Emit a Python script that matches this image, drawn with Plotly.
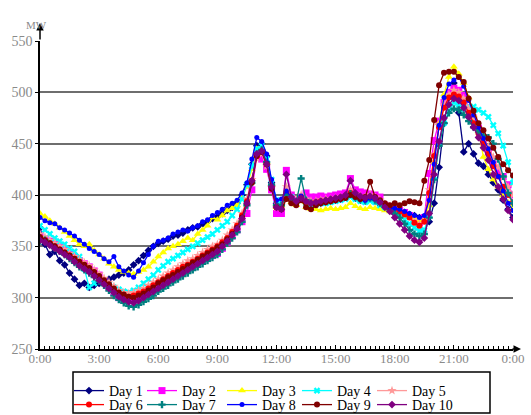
import plotly.graph_objects as go

# 15-minute load samples (MW) from 0:00 to 24:00, 97 points per day
hours = [i * 0.25 for i in range(97)]

day1 = [368, 352, 342, 345, 336, 332, 324, 318, 312, 314, 310, 312, 314, 316, 318, 320,
        322, 324, 327, 332, 336, 341, 346, 350, 353, 355, 357, 360, 361, 363, 366, 368,
        369, 372, 374, 377, 379, 382, 385, 388, 392, 400, 410, 430, 448, 450, 438, 412,
        392, 394, 400, 396, 393, 398, 392, 390, 391, 392, 393, 394, 395, 396, 398, 400,
        397, 395, 394, 396, 394, 391, 389, 388, 387, 385, 383, 381, 380, 378, 376, 374,
        392, 427, 470, 495, 509, 480, 442, 450, 440, 431, 428, 420, 412, 405, 395, 386,
        378]
day2 = [360, 357, 355, 352, 350, 347, 344, 340, 336, 333, 330, 326, 322, 316, 310, 305,
        300, 298, 297, 298, 300, 302, 305, 308, 312, 315, 318, 320, 322, 325, 328, 330,
        333, 336, 338, 341, 343, 348, 354, 360, 366, 374, 382, 405, 437, 435, 425, 405,
        382, 382, 424, 400, 395, 398, 402, 398, 398, 399, 398, 399, 400, 401, 402, 416,
        405, 403, 402, 401, 400, 398, 390, 388, 386, 385, 383, 380, 375, 373, 378, 421,
        453, 472, 490, 500, 504, 502, 497, 485, 475, 465, 452, 442, 430, 424, 418, 410,
        400]
day3 = [382, 379, 375, 372, 368, 364, 360, 356, 352, 350, 352, 346, 342, 338, 333, 330,
        327, 325, 324, 323, 325, 327, 330, 335, 340, 344, 348, 350, 352, 355, 358, 356,
        362, 366, 370, 378, 376, 380, 385, 387, 390, 398, 408, 425, 445, 446, 432, 410,
        388, 390, 398, 393, 390, 394, 388, 386, 386, 385, 386, 387, 386, 387, 388, 392,
        389, 387, 386, 388, 387, 386, 385, 384, 383, 382, 380, 378, 377, 375, 376, 390,
        432, 470, 498, 515, 525, 518, 509, 495, 478, 462, 437, 425, 415, 408, 400, 393,
        388]
day4 = [370, 366, 362, 358, 355, 352, 348, 345, 340, 328, 310, 314, 318, 316, 313, 310,
        308, 306, 305, 307, 310, 314, 318, 322, 327, 331, 335, 338, 341, 344, 347, 350,
        353, 356, 359, 362, 366, 370, 374, 380, 386, 396, 410, 428, 445, 448, 435, 415,
        395, 392, 402, 398, 394, 397, 392, 391, 391, 392, 392, 393, 394, 395, 396, 398,
        396, 394, 393, 394, 393, 390, 388, 386, 383, 380, 376, 372, 368, 365, 366, 380,
        418, 450, 470, 482, 490, 488, 484, 486, 486, 483, 480, 476, 468, 460, 448, 432,
        412]
day5 = [362, 359, 356, 353, 350, 347, 343, 340, 337, 334, 331, 327, 323, 319, 315, 311,
        307, 305, 304, 305, 307, 309, 312, 315, 318, 321, 324, 327, 330, 333, 336, 338,
        341, 344, 347, 350, 352, 356, 361, 366, 372, 382, 396, 415, 436, 440, 428, 408,
        388, 390, 408, 398, 395, 400, 396, 394, 394, 395, 396, 396, 397, 398, 399, 405,
        401, 399, 398, 400, 398, 395, 391, 389, 387, 385, 382, 379, 375, 372, 375, 405,
        440, 468, 488, 498, 502, 500, 494, 484, 474, 465, 456, 447, 437, 427, 417, 408,
        400]
day6 = [358, 356, 353, 350, 347, 344, 341, 338, 334, 331, 328, 324, 320, 316, 312, 308,
        304, 302, 301, 302, 304, 306, 309, 312, 315, 318, 321, 324, 327, 330, 332, 335,
        338, 341, 344, 347, 350, 354, 358, 364, 370, 380, 394, 414, 438, 442, 430, 408,
        388, 388, 402, 396, 392, 398, 393, 392, 393, 394, 394, 395, 396, 397, 398, 402,
        399, 397, 396, 398, 396, 393, 390, 388, 386, 384, 381, 378, 373, 370, 374, 402,
        438, 466, 485, 495, 498, 496, 490, 480, 470, 460, 450, 440, 428, 418, 408, 400,
        393]
day7 = [355, 356, 352, 348, 345, 342, 338, 334, 330, 327, 324, 320, 316, 312, 307, 302,
        298, 295, 292, 291, 293, 296, 299, 302, 306, 309, 312, 315, 318, 321, 324, 327,
        330, 333, 336, 339, 342, 347, 353, 358, 364, 374, 390, 412, 440, 444, 432, 410,
        390, 390, 400, 396, 393, 416, 395, 392, 392, 393, 394, 395, 396, 397, 398, 401,
        398, 396, 395, 397, 395, 392, 389, 386, 382, 378, 372, 366, 362, 360, 362, 378,
        415, 448, 470, 480, 484, 483, 478, 472, 466, 462, 458, 456, 450, 435, 418, 402,
        392]
day8 = [378, 375, 373, 372, 368, 366, 363, 360, 356, 352, 348, 345, 342, 338, 335, 340,
        330, 326, 322, 320, 326, 334, 342, 350, 355, 356, 358, 362, 364, 366, 365, 368,
        370, 374, 376, 380, 383, 386, 390, 392, 395, 402, 412, 435, 456, 452, 440, 415,
        395, 396, 404, 398, 394, 399, 394, 392, 392, 393, 394, 395, 396, 396, 398, 400,
        398, 396, 395, 397, 396, 393, 390, 388, 387, 386, 384, 382, 380, 378, 380, 395,
        430, 468, 495, 508, 512, 515, 506, 492, 478, 466, 455, 445, 432, 418, 404, 392,
        385]
day9 = [359, 356, 353, 350, 347, 344, 341, 338, 335, 332, 329, 325, 321, 317, 313, 309,
        305, 303, 301, 300, 302, 304, 307, 310, 314, 317, 320, 322, 325, 328, 331, 334,
        337, 340, 343, 346, 349, 352, 357, 362, 368, 378, 392, 412, 438, 442, 430, 406,
        388, 386, 396, 392, 390, 395, 388, 386, 390, 392, 393, 394, 395, 396, 397, 400,
        398, 396, 398, 413, 398, 395, 392, 390, 392, 390, 392, 394, 393, 392, 414, 434,
        473, 507, 519, 520, 520, 515, 510, 494, 482, 470, 463, 455, 446, 437, 430, 424,
        419]
day10 = [356, 354, 351, 348, 345, 342, 339, 335, 331, 328, 325, 321, 317, 313, 309, 305,
         301, 298, 296, 295, 297, 300, 303, 306, 309, 312, 315, 318, 321, 324, 327, 330,
         333, 336, 339, 342, 345, 350, 355, 361, 367, 377, 392, 414, 440, 443, 430, 408,
         388, 386, 420, 398, 394, 397, 394, 392, 393, 394, 395, 396, 397, 398, 400, 414,
         402, 399, 397, 399, 397, 393, 388, 384, 378, 372, 366, 360, 356, 354, 358, 382,
         420, 452, 475, 488, 494, 492, 485, 476, 466, 456, 446, 434, 420, 408, 396, 385,
         376]

series_names = ["Day 1", "Day 2", "Day 3", "Day 4", "Day 5",
                "Day 6", "Day 7", "Day 8", "Day 9", "Day 10"]
series_values = [day1, day2, day3, day4, day5, day6, day7, day8, day9, day10]

x_tick_vals = [0, 3, 6, 9, 12, 15, 18, 21, 24]
x_tick_text = ["0:00", "3:00", "6:00", "9:00", "12:00", "15:00", "18:00", "21:00", "0:00"]
y_tick_vals = [250, 300, 350, 400, 450, 500, 550]

colors = ["#000080", "#FF00FF", "#FFFF00", "#00FFFF", "#FF9999",
          "#FF0000", "#008080", "#0000FF", "#800000", "#800080"]
symbols = ["diamond", "square", "triangle-up", "x", "star",
           "circle", "cross", "circle", "circle", "diamond"]
sizes = [6, 7, 7, 6, 7, 6, 6, 5, 6, 6]

SERIF = "Liberation Serif"

# plot-area geometry in pixels (used to place the legend entries)
PL, PR, PT, PB = 40, 513, 41, 349
PW, PH = PR - PL, PB - PT

def px_x(px):
    return (px - PL) / PW

def px_y(py):
    return (PB - py) / PH

# legend grid: 5 columns x 2 rows, one small legend per entry
col_text_x = [110, 183, 263, 338, 413]
row_mid_y = [391, 405]

fig = go.Figure()
legend_layouts = {}
for k, (name, vals) in enumerate(zip(series_names, series_values)):
    lg = "legend" if k == 0 else f"legend{k + 1}"
    fig.add_trace(go.Scatter(
        x=hours, y=vals, name=name, mode="lines+markers",
        line=dict(color=colors[k], width=1.3),
        marker=dict(color=colors[k], symbol=symbols[k], size=sizes[k],
                    line=dict(width=0)),
        legend=lg,
    ))
    col, row = k % 5, k // 5
    legend_layouts[lg] = dict(
        x=px_x(col_text_x[col] - 41), y=px_y(row_mid_y[row]),
        xanchor="left", yanchor="middle", orientation="h",
        font=dict(family=SERIF, size=14, color="black"),
        bgcolor="rgba(0,0,0,0)", borderwidth=0, itemwidth=30,
    )

fig.update_layout(
    width=531, height=415,
    margin=dict(l=PL, r=531 - PR, t=PT, b=415 - PB, autoexpand=False),
    paper_bgcolor="white", plot_bgcolor="white",
    showlegend=True,
    xaxis=dict(
        range=[0, 24], tickmode="array", tickvals=x_tick_vals, ticktext=x_tick_text,
        showgrid=False, zeroline=False, showline=True, linecolor="black", linewidth=2,
        ticks="inside", ticklen=4, tickcolor="black", ticklabelstandoff=-4,
        minor=dict(dtick=0.25, tick0=0, ticks="inside", ticklen=3, tickcolor="black"),
        tickfont=dict(family=SERIF, size=13, color="#8a8a8a"),
    ),
    yaxis=dict(
        range=[250, 550], tickmode="array", tickvals=y_tick_vals,
        showgrid=True, gridcolor="#6e6e6e", gridwidth=2, zeroline=False,
        showline=True, linecolor="black", linewidth=1.5,
        ticks="outside", ticklen=3, tickcolor="black",
        tickfont=dict(family=SERIF, size=14, color="#8a8a8a"),
    ),
    **legend_layouts,
)

# legend frame
fig.add_shape(type="rect", xref="paper", yref="paper",
              x0=px_x(73), x1=px_x(490), y0=px_y(372), y1=px_y(413),
              line=dict(color="black", width=1.5), fillcolor="white", layer="above")

# axis arrows and unit label
fig.add_annotation(x=0, y=px_y(23), xref="paper", yref="paper", text="",
                   showarrow=True, ax=0, ay=18, arrowhead=2, arrowsize=1,
                   arrowwidth=1.5, arrowcolor="black")
fig.add_annotation(x=px_x(521), y=0, xref="paper", yref="paper", text="",
                   showarrow=True, ax=-10, ay=0, arrowhead=2, arrowsize=1,
                   arrowwidth=1.5, arrowcolor="black")
fig.add_annotation(x=px_x(24), y=px_y(17), xref="paper", yref="paper", text="MW",
                   showarrow=False, font=dict(family=SERIF, size=11, color="#8a8a8a"))

fig.write_html("out.html")
